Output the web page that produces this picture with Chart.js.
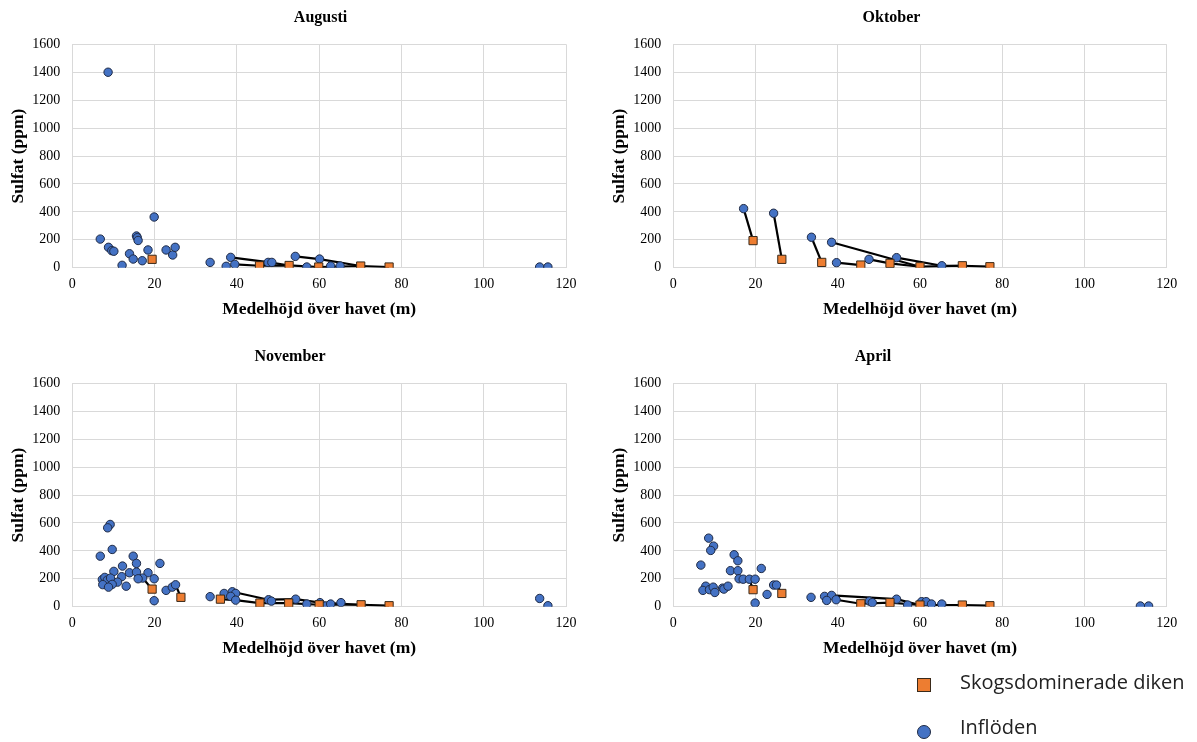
<!DOCTYPE html>
<html>
<head>
<meta charset="utf-8">
<script src="https://cdn.jsdelivr.net/npm/chart.js@4/dist/chart.umd.min.js"></script>
<style>
  html, body { margin: 0; padding: 0; background: #fff; }
  body { width: 1197px; height: 742px; position: relative; overflow: hidden; }
  canvas { position: absolute; }
  .leg { position: absolute; font-family: "Open Sans", "Noto Sans", sans-serif; font-size: 20px; color: #222; line-height: 20px; white-space: nowrap; }
  .mk { position: absolute; width: 14px; height: 14px; box-sizing: border-box; }
</style>
</head>
<body>
<canvas id="c1"></canvas>
<canvas id="c2"></canvas>
<canvas id="c3"></canvas>
<canvas id="c4"></canvas>

<div class="mk" style="left:917px;top:678px;background:#ED7D31;border:1px solid #3a2a1a;"></div>
<div class="leg" style="left:960px;top:672px;">Skogsdominerade diken</div>
<div class="mk" style="left:917px;top:725px;background:#4472C4;border:1px solid #1f2a44;border-radius:50%;"></div>
<div class="leg" style="left:960px;top:717px;">Inflöden</div>

<script>
// ---------- Data ----------
const xTicks = [0, 20, 40, 60, 80, 100, 120];
const yTicks = [0, 200, 400, 600, 800, 1000, 1200, 1400, 1600];
const monthNames = ["Augusti", "Oktober", "November", "April"];
const seriesNames = ["Skogsdominerade diken", "Inflöden"];

// Augusti
const augInflowX = [8.7, 6.8, 8.8, 9.6, 10.1, 12.1, 13.9, 14.8, 15.6, 15.8, 16.0, 17.0, 18.4, 19.9, 22.8, 24.4, 25.0, 33.5, 37.4, 38.5, 39.5, 47.6, 48.5, 54.2, 57.0, 60.1, 62.8, 65.1, 113.6, 115.6];
const augInflowY = [1400, 205, 146, 122, 118, 17, 100, 62, 227, 215, 195, 50, 127, 363, 127, 91, 146, 38, 10, 74, 24, 38, 38, 81, 5, 62, 12, 12, 5, 5];
const augDitchX = [19.4, 45.5, 52.7, 59.9, 70.1, 77.0];
const augDitchY = [60, 14, 16, 5, 12, 5];
const augLinksX = [[38.5, 48.0, 52.7], [39.5, 45.5, 52.7, 59.9, 70.1, 77.0], [54.2, 60.1, 70.1]];
const augLinksY = [[74, 38, 16], [24, 14, 16, 5, 12, 5], [81, 62, 12]];

// Oktober
const oktInflowX = [17.1, 24.4, 33.6, 38.5, 39.7, 47.6, 54.3, 65.3];
const oktInflowY = [423, 390, 218, 182, 36, 60, 72, 14];
const oktDitchX = [19.4, 26.4, 36.1, 45.6, 52.7, 60.0, 70.3, 77.0];
const oktDitchY = [194, 60, 38, 19, 31, 7, 14, 7];
const oktLinksX = [[17.1, 19.4], [24.4, 26.4], [33.6, 36.1], [38.5, 60.0], [39.7, 45.6], [47.6, 52.7, 60.0, 70.3], [54.3, 65.3, 70.3, 77.0]];
const oktLinksY = [[423, 194], [390, 60], [218, 38], [182, 7], [36, 19], [60, 31, 7, 14], [72, 14, 14, 7]];

// November
const novInflowX = [9.2, 8.6, 9.7, 6.8, 14.8, 15.6, 21.3, 12.2, 10.1, 13.9, 15.6, 18.4, 17.1, 16.0, 19.9, 12.0, 7.3, 7.9, 8.5, 9.3, 11.0, 9.7, 7.4, 8.8, 13.1, 22.8, 24.3, 25.1, 19.9, 33.5, 36.9, 38.9, 39.7, 38.5, 39.7, 47.7, 48.4, 54.3, 57.0, 60.2, 61.6, 62.8, 65.3, 113.6, 115.6];
const novInflowY = [589, 565, 410, 362, 362, 310, 310, 291, 253, 243, 248, 243, 205, 200, 200, 215, 195, 210, 190, 205, 176, 160, 158, 140, 147, 117, 140, 157, 43, 72, 95, 107, 95, 74, 47, 50, 40, 54, 19, 29, 5, 19, 29, 59, 7];
const novDitchX = [19.4, 26.4, 36.0, 45.6, 52.6, 60.0, 70.2, 77.0];
const novDitchY = [126, 67, 54, 26, 26, 14, 14, 7];
const novLinksX = [[17.1, 19.4], [25.1, 26.4], [36.0, 39.7], [38.9, 47.7, 54.3, 60.2, 70.2], [39.7, 45.6, 52.6, 60.0, 70.2, 77.0]];
const novLinksY = [[205, 126], [157, 67], [54, 47], [107, 50, 54, 29, 14], [47, 26, 26, 14, 14, 7]];

// April
const aprInflowX = [8.6, 9.8, 9.1, 6.7, 14.8, 15.7, 21.4, 13.9, 15.7, 16.0, 17.0, 18.5, 19.9, 7.9, 7.2, 8.8, 9.7, 10.1, 12.0, 12.3, 13.3, 24.4, 25.1, 22.8, 19.9, 33.5, 36.8, 38.5, 37.3, 39.6, 47.7, 48.4, 54.3, 57.0, 60.4, 61.5, 62.8, 65.3, 113.6, 115.6];
const aprInflowY = [491, 434, 403, 298, 372, 329, 274, 258, 258, 200, 197, 197, 197, 147, 117, 122, 140, 102, 133, 126, 147, 155, 155, 88, 26, 67, 74, 81, 45, 50, 40, 29, 54, 12, 36, 36, 19, 19, 5, 5];
const aprDitchX = [19.4, 26.4, 45.6, 52.7, 60.0, 70.3, 77.0];
const aprDitchY = [122, 95, 21, 29, 12, 12, 7];
const aprLinksX = [[18.5, 19.4], [25.1, 26.4], [38.5, 54.3, 60.0], [39.6, 45.6, 52.7, 60.0, 70.3, 77.0]];
const aprLinksY = [[197, 122], [155, 95], [81, 54, 12], [50, 21, 29, 12, 12, 7]];

// ---------- Layout of the four panels (page pixels) ----------
const panelLayout = [
  { id: 'c1', top: 0,   plotLeft: 72.3,  plotRight: 566.0,  titleX: 320.5, yTitleX: 18 },
  { id: 'c2', top: 0,   plotLeft: 673.3, plotRight: 1166.7, titleX: 891.5, yTitleX: 619 },
  { id: 'c3', top: 339, plotLeft: 72.3,  plotRight: 566.0,  titleX: 290,   yTitleX: 18 },
  { id: 'c4', top: 339, plotLeft: 673.3, plotRight: 1166.7, titleX: 873,   yTitleX: 619 }
];
const CANVAS_H = 330;
const MIN_RIGHT = 22;

// ---------- Chart building ----------
const SERIF = "'Liberation Serif', 'Times New Roman', serif";
const AXIS_TITLE_SIZE = 17.5;
const zip = (xs, ys) => xs.map((x, i) => ({ x: x, y: ys[i] }));

function makeChart(lay, title, inX, inY, dX, dY, lX, lY) {
  const half = AXIS_TITLE_SIZE * 1.2 / 2;
  const left = Math.floor(Math.min(lay.yTitleX - half - 8, 2 * lay.titleX - lay.plotRight - MIN_RIGHT));
  const boxRight = 2 * lay.titleX - left;
  const rightW = boxRight - lay.plotRight;
  const yW = lay.plotLeft - left;
  const yPad = lay.yTitleX - left - half;
  const width = Math.ceil(boxRight - left);

  const cv = document.getElementById(lay.id);
  cv.width = width; cv.height = CANVAS_H;
  cv.style.left = left + 'px'; cv.style.top = lay.top + 'px';

  const datasets = [];
  lX.forEach((xs, k) => {
    datasets.push({
      type: 'scatter', label: 'link', data: zip(xs, lY[k]), showLine: true,
      borderColor: '#000', borderWidth: 2.2, pointRadius: 0, fill: false, order: 3
    });
  });
  datasets.push({
    type: 'scatter', label: seriesNames[1], data: zip(inX, inY),
    pointStyle: 'circle', pointRadius: 4.2, pointBackgroundColor: '#4472C4',
    pointBorderColor: '#1f2a44', pointBorderWidth: 1, order: 2
  });
  datasets.push({
    type: 'scatter', label: seriesNames[0], data: zip(dX, dY),
    pointStyle: 'rect', pointRadius: 5.8, pointBackgroundColor: '#ED7D31',
    pointBorderColor: '#3a2a1a', pointBorderWidth: 1, order: 1
  });
  return new Chart(cv, {
    type: 'scatter',
    data: { datasets: datasets },
    options: {
      responsive: false, animation: false, devicePixelRatio: 1,
      layout: { padding: { left: 0, right: width - (boxRight - left), top: 0, bottom: 0 } },
      plugins: {
        legend: { display: false }, tooltip: { enabled: false },
        title: {
          display: true, text: title, color: '#000',
          font: { family: SERIF, size: 16, weight: 'bold' },
          padding: { top: 8, bottom: 17.1 }
        }
      },
      scales: {
        x: {
          type: 'linear', min: 0, max: 120,
          afterBuildTicks: (s) => { s.ticks = xTicks.map(v => ({ value: v })); },
          afterFit: (s) => { s.height = 62.3; },
          grid: { color: '#D9D9D9', lineWidth: 1, drawTicks: false },
          border: { color: '#D9D9D9' },
          ticks: { color: '#000', padding: 8, font: { family: SERIF, size: 14 }, callback: (v) => String(v) },
          title: { display: true, text: 'Medelhöjd över havet (m)', color: '#000',
                   font: { family: SERIF, size: AXIS_TITLE_SIZE, weight: 'bold' }, padding: { top: 0, bottom: 10.5 } }
        },
        y: {
          type: 'linear', min: 0, max: 1600,
          afterBuildTicks: (s) => { s.ticks = yTicks.map(v => ({ value: v })); },
          afterFit: (s) => { s.width = yW; },
          grid: { color: '#D9D9D9', lineWidth: 1, drawTicks: false },
          border: { color: '#D9D9D9' },
          ticks: { color: '#000', padding: 12, font: { family: SERIF, size: 14 }, callback: (v) => String(v) },
          title: { display: true, text: 'Sulfat (ppm)', color: '#000',
                   font: { family: SERIF, size: AXIS_TITLE_SIZE, weight: 'bold' }, padding: { top: yPad, bottom: 0 } }
        },
        spacer: {
          type: 'linear', position: 'right', display: true, min: 0, max: 1,
          afterFit: (s) => { s.width = rightW; },
          grid: { display: false, drawTicks: false }, border: { display: false },
          ticks: { display: false }, title: { display: false }
        }
      }
    }
  });
}

makeChart(panelLayout[0], monthNames[0], augInflowX, augInflowY, augDitchX, augDitchY, augLinksX, augLinksY);
makeChart(panelLayout[1], monthNames[1], oktInflowX, oktInflowY, oktDitchX, oktDitchY, oktLinksX, oktLinksY);
makeChart(panelLayout[2], monthNames[2], novInflowX, novInflowY, novDitchX, novDitchY, novLinksX, novLinksY);
makeChart(panelLayout[3], monthNames[3], aprInflowX, aprInflowY, aprDitchX, aprDitchY, aprLinksX, aprLinksY);
</script>
</body>
</html>
